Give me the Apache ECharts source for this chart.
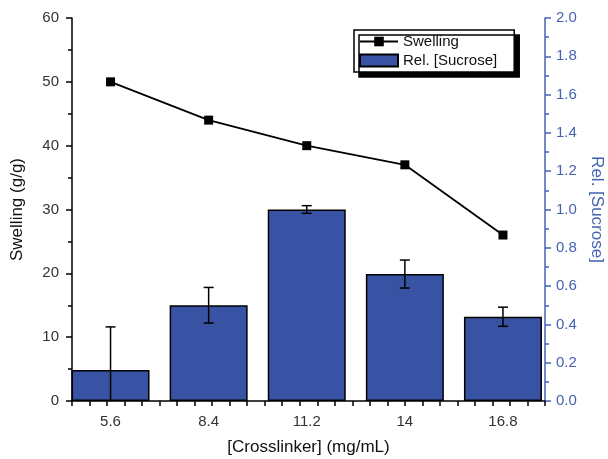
<!DOCTYPE html>
<html>
<head>
<meta charset="utf-8">
<script src="https://cdn.jsdelivr.net/npm/echarts@6/dist/echarts.min.js"></script>
<style>html,body{margin:0;padding:0;background:#fff}#c{width:608px;height:459px}</style>
</head>
<body>
<div id="c"></div>
<script>
const crosslinker = [5.6, 8.4, 11.2, 14, 16.8];
const tickLabels = ['5.6', '8.4', '11.2', '14', '16.8'];
const swelling = [50, 44, 40, 37, 26];
const relSucrose = [0.162, 0.5, 1.0, 0.663, 0.44];
const relSucroseErr = [0.225, 0.093, 0.02, 0.073, 0.05];

const FONT = '"Liberation Sans", Arial, sans-serif';
const BLUE = '#3953a4';
const AXBLUE = '#4463b3';
const xMin = 4.5, xMax = 18, xStep = 0.5;
const xTicks = [];
for (let v = xMin; v <= xMax + 1e-9; v += xStep) xTicks.push(Math.round(v * 100) / 100);

const chart = echarts.init(document.getElementById('c'), null, {renderer: 'canvas'});
chart.setOption({
  animation: false,
  backgroundColor: '#fff',
  textStyle: {fontFamily: FONT},
  grid: {left: 72, right: 63, top: 18, bottom: 58, outerBoundsMode: 'none', containLabel: false},
  legend: {
    orient: 'vertical',
    left: 354, top: 30,
    padding: [4, 17, 4, 5],
    itemGap: 4,
    itemWidth: 38, itemHeight: 12,
    backgroundColor: '#fff',
    borderColor: '#000', borderWidth: 1.5, borderRadius: 0,
    shadowColor: '#000', shadowBlur: 0, shadowOffsetX: 5, shadowOffsetY: 5,
    textStyle: {fontSize: 15, color: '#111', fontFamily: FONT},
    data: [{name: 'Swelling'}, {name: 'Rel. [Sucrose]', icon: 'rect'}]
  },
  xAxis: {
    type: 'value', min: xMin, max: xMax, interval: xStep,
    name: '[Crosslinker] (mg/mL)', nameLocation: 'middle', nameGap: 38,
    nameTextStyle: {fontSize: 17, color: '#111', fontFamily: FONT},
    axisLine: {show: true, lineStyle: {color: '#000', width: 1.5}},
    axisTick: {show: true, length: 5, lineStyle: {color: '#000', width: 1.5}, customValues: xTicks},
    axisLabel: {fontSize: 15, color: '#333', margin: 13, fontFamily: FONT,
      customValues: crosslinker,
      formatter: v => { const i = crosslinker.findIndex(c => Math.abs(c - v) < 1e-6); return i >= 0 ? tickLabels[i] : ''; }},
    splitLine: {show: false}
  },
  yAxis: [{
    type: 'value', min: 0, max: 60, interval: 10, position: 'left',
    name: 'Swelling (g/g)', nameLocation: 'middle', nameGap: 46, nameRotate: 90,
    nameTextStyle: {fontSize: 17, color: '#111', fontFamily: FONT},
    axisLine: {show: true, lineStyle: {color: '#000', width: 1.5}},
    axisTick: {show: true, length: 6, lineStyle: {color: '#000', width: 1.5}},
    minorTick: {show: true, splitNumber: 2, length: 4, lineStyle: {color: '#000', width: 1.5}},
    axisLabel: {fontSize: 15, color: '#333', margin: 13, fontFamily: FONT},
    splitLine: {show: false}
  }, {
    type: 'value', min: 0, max: 2, interval: 0.2, position: 'right',
    name: 'Rel. [Sucrose]', nameLocation: 'middle', nameGap: 41, nameRotate: -90,
    nameTextStyle: {fontSize: 17, color: AXBLUE, fontFamily: FONT},
    axisLine: {show: true, lineStyle: {color: AXBLUE, width: 1.5}},
    axisTick: {show: true, length: 6, lineStyle: {color: AXBLUE, width: 1.5}},
    minorTick: {show: true, splitNumber: 2, length: 4, lineStyle: {color: AXBLUE, width: 1.5}},
    axisLabel: {fontSize: 15, color: AXBLUE, margin: 11, fontFamily: FONT, formatter: v => v.toFixed(1)},
    splitLine: {show: false}
  }],
  series: [{
    name: 'Rel. [Sucrose]', type: 'bar', yAxisIndex: 1, barWidth: 78,
    itemStyle: {color: BLUE, borderColor: '#000', borderWidth: 1.5},
    data: crosslinker.map((x, i) => [x, relSucrose[i]]),
    z: 2
  }, {
    name: 'errors', type: 'custom', yAxisIndex: 1, clip: true, z: 3,
    data: crosslinker.map((x, i) => [x, relSucrose[i] - relSucroseErr[i], relSucrose[i] + relSucroseErr[i]]),
    renderItem: function (params, api) {
      const x = api.value(0);
      const lo = api.coord([x, Math.max(0, api.value(1))]);
      const loRaw = api.value(1);
      const hi = api.coord([x, api.value(2)]);
      const cw = 5;
      const children = [
        {type: 'line', shape: {x1: hi[0], y1: hi[1], x2: lo[0], y2: lo[1]}, style: {stroke: '#000', lineWidth: 1.5}},
        {type: 'line', shape: {x1: hi[0] - cw, y1: hi[1], x2: hi[0] + cw, y2: hi[1]}, style: {stroke: '#000', lineWidth: 1.5}}
      ];
      if (loRaw >= 0) children.push({type: 'line', shape: {x1: lo[0] - cw, y1: lo[1], x2: lo[0] + cw, y2: lo[1]}, style: {stroke: '#000', lineWidth: 1.5}});
      return {type: 'group', children: children};
    }
  }, {
    name: 'Swelling', type: 'line', yAxisIndex: 0, z: 4,
    symbol: 'rect', symbolSize: 9,
    lineStyle: {color: '#000', width: 1.8},
    itemStyle: {color: '#000'},
    data: crosslinker.map((x, i) => [x, swelling[i]])
  }]
});
</script>
</body>
</html>
